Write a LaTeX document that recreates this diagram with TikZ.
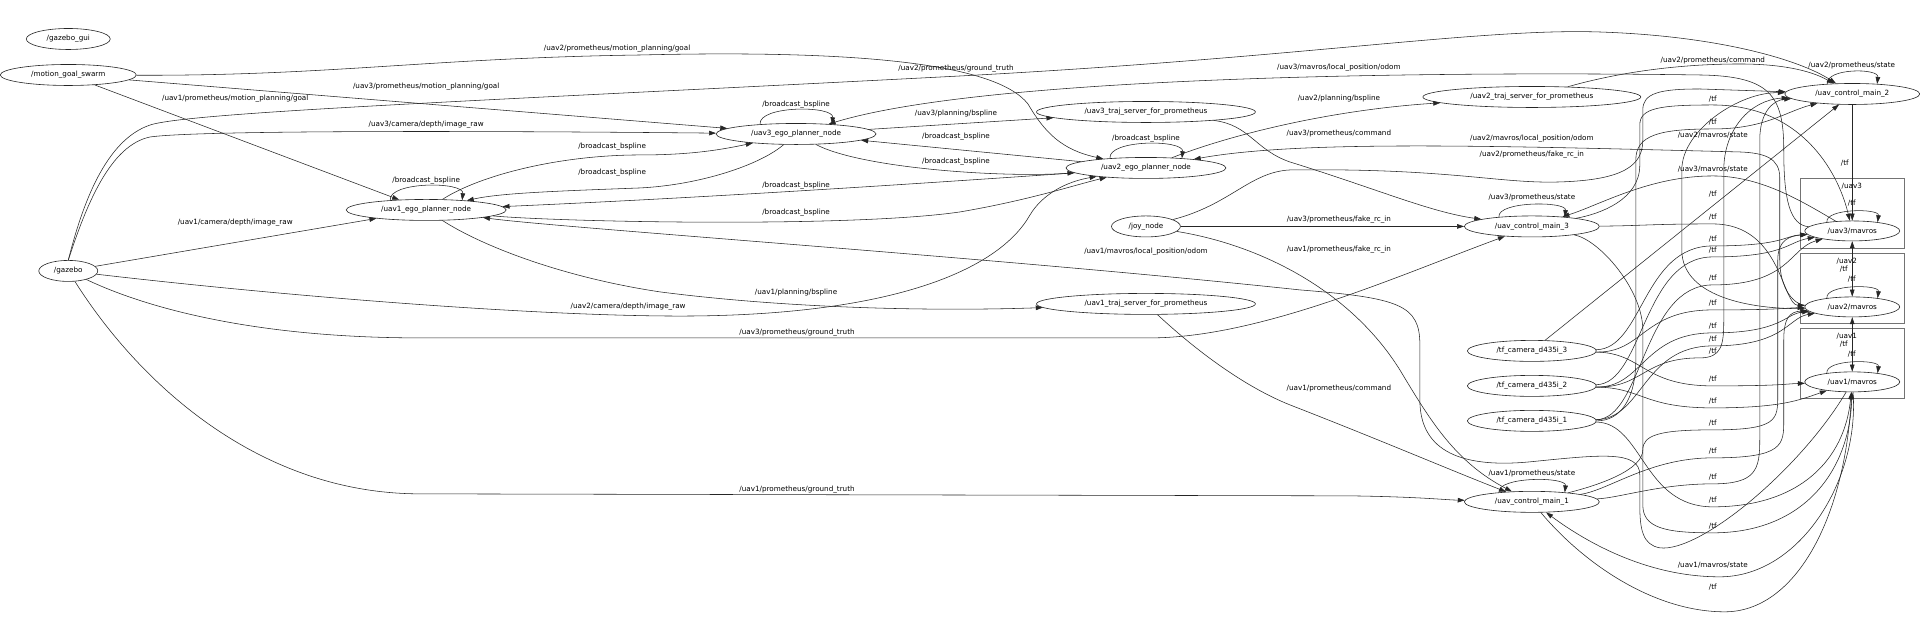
\documentclass[tikz,border=0pt]{standalone}
\usepackage{fontspec}
\setmainfont{DejaVu Sans}
\usetikzlibrary{shapes.geometric,arrows.meta,positioning}

\begin{document}
\begin{tikzpicture}[
  x=1pt, y=-1pt,
  rosnode/.style={ellipse, draw=black!85, line width=0.6pt, inner sep=0pt, minimum height=21pt, font=\fontsize{7.2}{8.6}\selectfont},
  mavnode/.style={rosnode, minimum width=95pt, minimum height=20pt},
  lbl/.style={inner sep=0pt, font=\fontsize{7.2}{8.6}\selectfont},
  cluster/.style={rectangle, draw=black!55, line width=0.5pt, inner sep=0pt, minimum width=105pt, minimum height=70pt},
  arrow/.style={->, >={Triangle[length=7pt, width=4.6pt]}, line width=0.55pt, draw=black!85}
]

% canvas
\fill[white] (0,0) rectangle (1920,626);

% Clusters
\node[cluster] (box3) at (1852.5,213) {};
\node[cluster] (box2) at (1852.5,288) {};
\node[cluster] (box1) at (1852.5,363) {};
\node[lbl] (box3name) at (1852,186) {/uav3};
\node[lbl] (box2name) at (1847,261) {/uav2};
\node[lbl] (box1name) at (1847,336) {/uav1};

% Nodes
\node[rosnode, minimum width=84pt] (gzgui) at (68,39) {/gazebo\_gui};
\node[rosnode, minimum width=136pt] (goalswarm) at (68,75) {/motion\_goal\_swarm};
\node[rosnode, minimum width=59pt] (gazebo) at (68,271) {/gazebo};
\node[rosnode, minimum width=160pt] (ego1) at (426,210) {/uav1\_ego\_planner\_node};
\node[rosnode, minimum width=160pt] (ego3) at (796,134) {/uav3\_ego\_planner\_node};
\node[rosnode, minimum width=160pt] (ego2) at (1146,168) {/uav2\_ego\_planner\_node};
\node[rosnode, minimum width=219pt] (traj3) at (1146,112) {/uav3\_traj\_server\_for\_prometheus};
\node[rosnode, minimum width=69pt] (joy) at (1146,226.5) {/joy\_node};
\node[rosnode, minimum width=219pt] (traj1) at (1146,304) {/uav1\_traj\_server\_for\_prometheus};
\node[rosnode, minimum width=218pt] (traj2) at (1532,97) {/uav2\_traj\_server\_for\_prometheus};
\node[rosnode, minimum width=135pt] (ctrl2) at (1852.5,94) {/uav\_control\_main\_2};
\node[rosnode, minimum width=135pt] (ctrl3) at (1532,226.5) {/uav\_control\_main\_3};
\node[rosnode, minimum width=135pt] (ctrl1) at (1532,502) {/uav\_control\_main\_1};
\node[rosnode, minimum width=129pt] (cam3) at (1532,351) {/tf\_camera\_d435i\_3};
\node[rosnode, minimum width=129pt] (cam2) at (1532,386) {/tf\_camera\_d435i\_2};
\node[rosnode, minimum width=129pt] (cam1) at (1532,421) {/tf\_camera\_d435i\_1};
\node[mavnode] (u3m) at (1852.5,231) {/uav3/mavros};
\node[mavnode] (u2m) at (1852.5,307) {/uav2/mavros};
\node[mavnode] (u1m) at (1852.5,382) {/uav1/mavros};

% Motion goals
\draw[arrow] (goalswarm) .. controls (330,76) and (430,58) .. (640,55) .. controls (850,50) and (995,62) .. (1028,104) .. controls (1045,133) and (1062,150) .. (ego2) node[lbl] at (617,49) {/uav2/prometheus/motion\_planning/goal};
\draw[arrow] (goalswarm) -- (ego3) node[lbl] at (426,87) {/uav3/prometheus/motion\_planning/goal};
\draw[arrow] (goalswarm) -- (ego1) node[lbl] at (235,99) {/uav1/prometheus/motion\_planning/goal};

% Gazebo outputs
\draw[arrow] (gazebo.north) .. controls (82,205) and (105,140) .. (150,125) .. controls (190,112) and (500,100) .. (960,76) .. controls (1300,58) and (1480,28) .. (1600,32) .. controls (1720,36) and (1800,60) .. (ctrl2) node[lbl] at (956,69) {/uav2/prometheus/ground\_truth};
\draw[arrow] (gazebo.north) .. controls (86,205) and (110,145) .. (150,137) .. controls (200,130) and (500,131) .. (ego3) node[lbl] at (426,125) {/uav3/camera/depth/image\_raw};
\draw[arrow] (gazebo) -- (ego1) node[lbl] at (235,223) {/uav1/camera/depth/image\_raw};
\draw[arrow] (gazebo) .. controls (300,298) and (560,318) .. (700,316) .. controls (900,313) and (1000,268) .. (1030,215) .. controls (1042,195) and (1065,182) .. (ego2) node[lbl] at (628,307) {/uav2/camera/depth/image\_raw};
\draw[arrow] (gazebo) .. controls (150,310) and (260,338) .. (420,338) -- (1150,338) .. controls (1260,338) and (1400,275) .. (ctrl3) node[lbl] at (797,333) {/uav3/prometheus/ground\_truth};
\draw[arrow] (gazebo) .. controls (140,385) and (260,494) .. (420,494) -- (1350,496) .. controls (1420,497) and (1445,500) .. (ctrl1) node[lbl] at (797,490) {/uav1/prometheus/ground\_truth};

% Ego planners
\draw[arrow] (ego1.165) .. controls +(-2,-19) and +(2,-19) .. (ego1.15) node[lbl] at (426,181) {/broadcast\_bspline};
\draw[arrow] (ego3.165) .. controls +(-2,-19) and +(2,-19) .. (ego3.15) node[lbl] at (796,105) {/broadcast\_bspline};
\draw[arrow] (ego2.165) .. controls +(-2,-19) and +(2,-19) .. (ego2.15) node[lbl] at (1146,139) {/broadcast\_bspline};
\draw[arrow] (ego1) .. controls (480,175) and (560,155) .. (640,155) .. controls (690,155) and (720,150) .. (ego3) node[lbl] at (612,147) {/broadcast\_bspline};
\draw[arrow] (ego3) .. controls (760,165) and (700,185) .. (640,188) .. controls (560,191) and (500,193) .. (ego1) node[lbl] at (612,173) {/broadcast\_bspline};
\draw[arrow] (ego2) .. controls (900,185) and (700,198) .. (ego1) node[lbl] at (796,186) {/broadcast\_bspline};
\draw[arrow] (ego1) .. controls (560,222) and (850,228) .. (960,212) .. controls (1030,200) and (1075,185) .. (ego2) node[lbl] at (796,213) {/broadcast\_bspline};
\draw[arrow] (ego2) -- (ego3) node[lbl] at (956,137) {/broadcast\_bspline};
\draw[arrow] (ego3) .. controls (860,168) and (1000,178) .. (ego2) node[lbl] at (956,162) {/broadcast\_bspline};
\draw[arrow] (ego3) -- (traj3) node[lbl] at (956,114) {/uav3/planning/bspline};
\draw[arrow] (ego1) .. controls (480,245) and (560,277) .. (660,292) .. controls (800,310) and (950,311) .. (traj1) node[lbl] at (796,293) {/uav1/planning/bspline};
\draw[arrow] (ego2) .. controls (1230,135) and (1330,110) .. (traj2) node[lbl] at (1339,99) {/uav2/planning/bspline};

% Odometry back to planners
\draw[arrow] (u3m) .. controls (1790,225) and (1784,200) .. (1784,150) .. controls (1784,95) and (1770,76) .. (1700,75) .. controls (1500,72) and (1000,72) .. (ego3) node[lbl] at (1339,68) {/uav3/mavros/local\_position/odom};
\draw[arrow] (u2m) .. controls (1795,305) and (1780,290) .. (1780,260) -- (1780,178) .. controls (1780,158) and (1765,153) .. (1740,152) .. controls (1500,146) and (1300,140) .. (ego2) node[lbl] at (1532,139) {/uav2/mavros/local\_position/odom};
\draw[arrow] (u1m) .. controls (1800,470) and (1700,553) .. (1660,548) .. controls (1643,545) and (1640,530) .. (1640,505) -- (1640,475) .. controls (1640,450) and (1600,455) .. (1530,462) .. controls (1445,470) and (1420,440) .. (1420,400) -- (1420,345) .. controls (1420,305) and (1400,298) .. (1300,290) .. controls (1000,258) and (560,228) .. (ego1) node[lbl] at (1146,252) {/uav1/mavros/local\_position/odom};

% Commands and joystick
\draw[arrow] (traj3) .. controls (1250,125) and (1255,150) .. (1290,162) .. controls (1380,190) and (1430,212) .. (ctrl3) node[lbl] at (1339,134) {/uav3/prometheus/command};
\draw[arrow] (traj2) .. controls (1620,72) and (1680,64) .. (1740,64) .. controls (1780,64) and (1810,70) .. (ctrl2) node[lbl] at (1713,61) {/uav2/prometheus/command};
\draw[arrow] (traj1) .. controls (1190,345) and (1240,385) .. (1290,405) .. controls (1380,440) and (1450,470) .. (ctrl1) node[lbl] at (1339,389) {/uav1/prometheus/command};
\draw[arrow] (joy) .. controls (1230,205) and (1250,172) .. (1290,170) .. controls (1450,168) and (1500,184) .. (1560,182) .. controls (1625,180) and (1643,165) .. (1643,140) -- (1643,110) .. controls (1643,93) and (1660,89) .. (1700,89) -- (ctrl2) node[lbl] at (1532,155) {/uav2/prometheus/fake\_rc\_in};
\draw[arrow] (joy) -- (ctrl3) node[lbl] at (1339,220) {/uav3/prometheus/fake\_rc\_in};
\draw[arrow] (joy) .. controls (1260,245) and (1350,290) .. (1400,370) .. controls (1430,420) and (1455,462) .. (ctrl1) node[lbl] at (1339,250) {/uav1/prometheus/fake\_rc\_in};

% Controller state loops
\draw[arrow] (ctrl2.158) .. controls +(-2,-16) and +(2,-16) .. (ctrl2.22) node[lbl] at (1852,66) {/uav2/prometheus/state};
\draw[arrow] (ctrl3.164) .. controls +(-2,-16) and +(2,-16) .. (ctrl3.16) node[lbl] at (1532,198) {/uav3/prometheus/state};
\draw[arrow] (ctrl1.164) .. controls +(-2,-16) and +(2,-16) .. (ctrl1.16) node[lbl] at (1532,474) {/uav1/prometheus/state};

% Mavros state
\draw[arrow] (u2m) .. controls (1760,310) and (1682,300) .. (1682,250) -- (1682,170) .. controls (1682,130) and (1740,92) .. (ctrl2) node[lbl] at (1713,135) {/uav2/mavros/state};
\draw[arrow] (u3m) .. controls (1800,200) and (1760,176) .. (1713,176) .. controls (1650,176) and (1600,205) .. (ctrl3) node[lbl] at (1713,169) {/uav3/mavros/state};
\draw[arrow] (u1m) .. controls (1860,480) and (1800,577) .. (1720,577) .. controls (1650,577) and (1590,545) .. (ctrl1) node[lbl] at (1713,565) {/uav1/mavros/state};

% Mavros tf
\draw[arrow] (u3m.161) .. controls +(-2,-14) and +(2,-14) .. (u3m.19) node[lbl] at (1852,203) {/tf};
\draw[arrow] (u2m.161) .. controls +(-2,-14) and +(2,-14) .. (u2m.19) node[lbl] at (1852,279) {/tf};
\draw[arrow] (u1m.161) .. controls +(-2,-14) and +(2,-14) .. (u1m.19) node[lbl] at (1852,354) {/tf};
\draw[arrow, <->] (u3m) -- (u2m) node[lbl] at (1844,269) {/tf};
\draw[arrow, <->] (u2m) -- (u1m) node[lbl] at (1844,344) {/tf};
\draw[arrow] (ctrl2) -- (u3m) node[lbl] at (1845,163) {/tf};
\draw[arrow] (ctrl1) .. controls (1585,565) and (1655,612) .. (1725,612) .. controls (1795,612) and (1845,520) .. (u1m) node[lbl] at (1713,587) {/tf};

% tf from controllers
\draw[arrow] (ctrl3) .. controls (1600,214) and (1640,200) .. (1640,165) -- (1640,125) .. controls (1640,108) and (1660,105) .. (1713,105) .. controls (1800,105) and (1838,170) .. (u3m) node[lbl] at (1713,99) {/tf};
\draw[arrow] (ctrl3) .. controls (1640,226) and (1650,224) .. (1713,224) .. controls (1782,224) and (1782,305) .. (u2m) node[lbl] at (1713,217) {/tf};
\draw[arrow] (ctrl3) .. controls (1600,240) and (1643,290) .. (1643,330) -- (1643,505) .. controls (1643,528) and (1665,533) .. (1713,533) .. controls (1805,533) and (1850,470) .. (u1m) node[lbl] at (1713,526) {/tf};
\draw[arrow] (ctrl1) .. controls (1600,485) and (1643,470) .. (1643,450) .. controls (1643,435) and (1660,430) .. (1713,430) .. controls (1778,430) and (1778,420) .. (1778,395) -- (1778,260) .. controls (1778,240) and (1790,236) .. (u3m) node[lbl] at (1713,423) {/tf};
\draw[arrow] (ctrl1) .. controls (1610,490) and (1650,458) .. (1713,458) .. controls (1784,458) and (1784,445) .. (1784,420) -- (1784,340) .. controls (1784,318) and (1790,312) .. (u2m) node[lbl] at (1713,451) {/tf};
\draw[arrow] (ctrl1) .. controls (1620,498) and (1660,484) .. (1713,484) .. controls (1756,484) and (1760,470) .. (1760,440) -- (1760,140) .. controls (1760,110) and (1775,100) .. (ctrl2) node[lbl] at (1713,477) {/tf};

% tf from cameras
\draw[arrow] (cam3) -- (ctrl2) node[lbl] at (1713,194) {/tf};
\draw[arrow] (cam1) .. controls (1620,421) and (1636,400) .. (1636,360) -- (1636,160) .. controls (1636,135) and (1660,129) .. (1713,129) .. controls (1765,129) and (1785,112) .. (ctrl2) node[lbl] at (1713,122) {/tf};
\draw[arrow] (cam2) .. controls (1643,388) and (1643,358) .. (1700,358) .. controls (1722,358) and (1724,345) .. (1724,320) -- (1724,170) .. controls (1724,130) and (1750,100) .. (ctrl2) node[lbl] at (1713,351) {/tf};
\draw[arrow] (cam3) .. controls (1643,349) and (1643,246) .. (1713,246) .. controls (1782,246) and (1785,236) .. (u3m) node[lbl] at (1713,239) {/tf};
\draw[arrow] (cam2) .. controls (1643,384) and (1643,257) .. (1713,257) .. controls (1785,257) and (1788,242) .. (u3m) node[lbl] at (1713,250) {/tf};
\draw[arrow] (cam1) .. controls (1643,419) and (1643,285) .. (1713,285) .. controls (1790,285) and (1790,248) .. (u3m) node[lbl] at (1713,278) {/tf};
\draw[arrow] (cam3) .. controls (1643,353) and (1643,310) .. (1713,310) .. controls (1782,310) and (1785,308) .. (u2m) node[lbl] at (1713,303) {/tf};
\draw[arrow] (cam2) .. controls (1643,388) and (1643,333) .. (1713,333) .. controls (1782,333) and (1785,314) .. (u2m) node[lbl] at (1713,326) {/tf};
\draw[arrow] (cam1) .. controls (1643,419) and (1643,346) .. (1713,346) .. controls (1785,346) and (1788,318) .. (u2m) node[lbl] at (1713,339) {/tf};
\draw[arrow] (cam3) .. controls (1643,353) and (1643,386) .. (1713,386) .. controls (1782,386) and (1785,384) .. (u1m) node[lbl] at (1713,379) {/tf};
\draw[arrow] (cam2) .. controls (1643,388) and (1643,408) .. (1713,408) .. controls (1782,408) and (1800,400) .. (u1m) node[lbl] at (1713,401) {/tf};
\draw[arrow] (cam1) .. controls (1643,423) and (1643,507) .. (1713,507) .. controls (1800,507) and (1845,460) .. (u1m) node[lbl] at (1713,500) {/tf};

\end{tikzpicture}
\end{document}
